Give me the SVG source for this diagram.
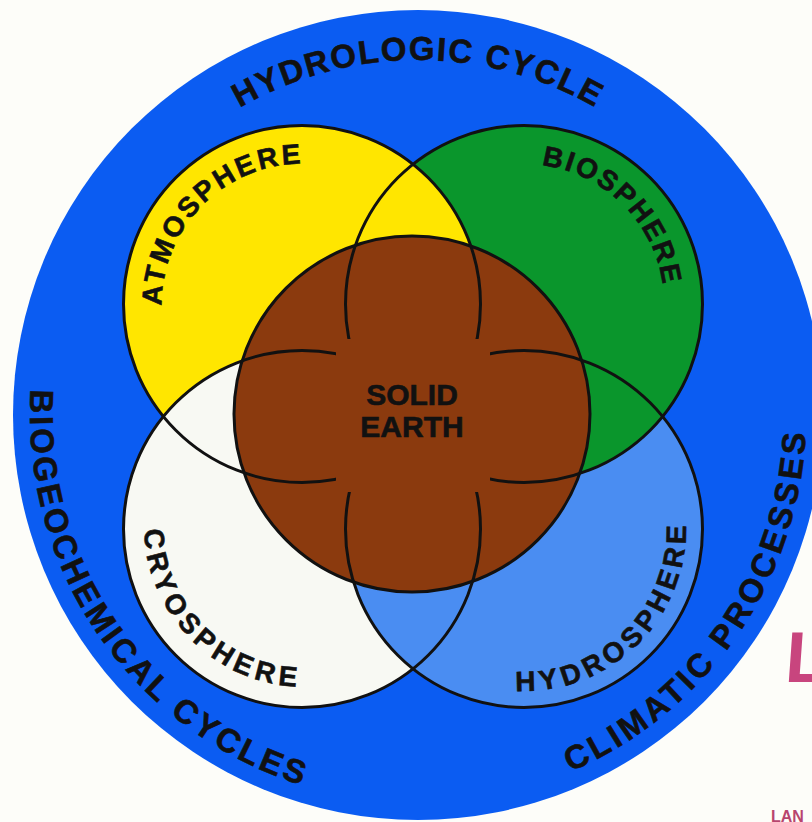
<svg xmlns="http://www.w3.org/2000/svg" width="812" height="822" viewBox="0 0 812 822">
<style>
.ol{fill:none;stroke:#111;stroke-width:3}
.t{font-family:"Liberation Sans",Arial,sans-serif;font-weight:bold;fill:#111;stroke:#111;stroke-width:0.6}
.outer{font-size:33px}
.inner{font-size:28px}
</style>
<defs>
<clipPath id="hydroClip"><circle cx="524" cy="529" r="178.5"/></clipPath>
<mask id="gap" maskUnits="userSpaceOnUse" x="0" y="0" width="812" height="822">
<rect x="0" y="0" width="812" height="822" fill="#fff"/>
<rect x="336" y="339" width="154" height="153" fill="#000"/>
</mask>
<path id="pHydro" d="M63,415 A355,355 0 0 1 773,415"/>
<path id="pBio" d="M197.7,95.6 A388,388 0 0 0 638.3,734.4"/>
<path id="pClim" d="M198.2,734.8 A388,388 0 0 0 637.8,95.2"/>
<path id="pAtm" d="M202.3,403.7 A141,141 0 0 1 401.7,204.3"/>
<path id="pBios" d="M425,205 A140,140 0 0 1 623,403"/>
<path id="pCryo" d="M188.2,415.2 A161,161 0 0 0 415.8,642.8"/>
<path id="pHyd" d="M409.4,643.6 A162,162 0 0 0 638.6,414.4"/>
</defs>
<rect width="812" height="822" fill="#fdfdf9"/>
<g id="earth-system">
<circle cx="418" cy="415" r="405" fill="#0b5cf2"/>
</g>
<g id="biosphere">
<circle cx="524" cy="304" r="178.5" fill="#0a962c"/>
</g>
<g id="atmosphere">
<circle cx="302" cy="304" r="178.5" fill="#ffe600"/>
</g>
<g id="cryosphere">
<circle cx="302" cy="529" r="178.5" fill="#f8f9f3"/>
</g>
<g id="hydrosphere">
<circle cx="524" cy="529" r="178.5" fill="#4a8df2"/>
<circle cx="524" cy="304" r="178.5" fill="#0a962c" clip-path="url(#hydroClip)"/>
</g>
<g id="solid-earth">
<circle cx="412" cy="414" r="178" fill="#8b3a0e" stroke="#111" stroke-width="3"/>
</g>
<g id="connectors" mask="url(#gap)">
<circle cx="302" cy="304" r="178.5" class="ol"/>
<circle cx="524" cy="304" r="178.5" class="ol"/>
<circle cx="302" cy="529" r="178.5" class="ol"/>
<circle cx="524" cy="529" r="178.5" class="ol"/>
</g>
<g id="labels">
<text class="t outer" letter-spacing="1.8"><textPath href="#pHydro" startOffset="50%" text-anchor="middle">HYDROLOGIC CYCLE</textPath></text>
<text class="t outer" letter-spacing="3.4"><textPath href="#pBio" startOffset="50%" text-anchor="middle">BIOGEOCHEMICAL CYCLES</textPath></text>
<text class="t outer" letter-spacing="3.8"><textPath href="#pClim" startOffset="50%" text-anchor="middle">CLIMATIC PROCESSES</textPath></text>
<text class="t inner" letter-spacing="2.8"><textPath href="#pAtm" startOffset="50%" text-anchor="middle">ATMOSPHERE</textPath></text>
<text class="t inner" letter-spacing="2.2"><textPath href="#pBios" startOffset="50%" text-anchor="middle">BIOSPHERE</textPath></text>
<text class="t inner" letter-spacing="5"><textPath href="#pCryo" startOffset="50%" text-anchor="middle">CRYOSPHERE</textPath></text>
<text class="t inner" letter-spacing="5"><textPath href="#pHyd" startOffset="50%" text-anchor="middle">HYDROSPHERE</textPath></text>
<text class="t" font-size="30" x="412" y="405" text-anchor="middle">SOLID</text>
<text class="t" font-size="30" x="412" y="437" text-anchor="middle">EARTH</text>
</g>
<g id="margin-text">
<text x="784" y="682" font-family="'Liberation Sans',Arial,sans-serif" font-weight="bold" font-size="72" fill="#c8457e" transform="skewX(-4)" style="transform-origin:784px 682px">L</text>
<text x="771" y="822" font-family="'Liberation Sans',Arial,sans-serif" font-weight="bold" font-size="16" fill="#b8456e">LAN</text>
</g>
</svg>
